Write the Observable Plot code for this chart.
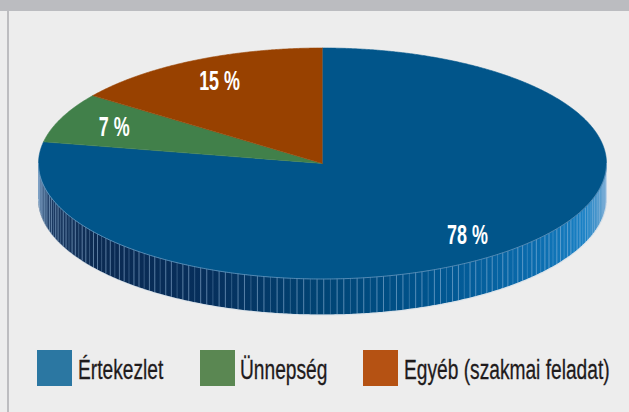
<!DOCTYPE html>
<html>
<head>
<meta charset="utf-8">
<script src="https://cdn.jsdelivr.net/npm/d3@7"></script>
<script src="https://cdn.jsdelivr.net/npm/@observablehq/plot@0.6"></script>
<style>
  html, body { margin: 0; padding: 0; }
  body { width: 629px; height: 412px; background: #ededed; position: relative; overflow: hidden;
         font-family: "Liberation Sans", Arial, sans-serif; }
  #band { position: absolute; left: 0; top: 0; width: 629px; height: 11px; background: #bbbcc0; }
  #border { position: absolute; left: 7px; top: 11px; width: 2px; height: 401px; background: #bdbdc0; }
  #chart { position: absolute; left: 0; top: 0; }
  .sw { position: absolute; top: 350px; width: 35px; height: 36px; }
  .lt { position: absolute; top: 355px; font-size: 27px; line-height: 31px; color: #1f1b1c; white-space: nowrap;
        transform: scaleX(0.71); transform-origin: 0 50%; -webkit-text-stroke: 0.3px #1f1b1c; }
</style>
</head>
<body>
<div id="band"></div>
<div id="border"></div>
<div id="chart"></div>
<div id="legend"></div>
<script>
// ---- data ----
const categories = ["Értekezlet", "Ünnepség", "Egyéb (szakmai feladat)"];
const shares = [78, 7, 15];
const valueLabels = ["78 %", "7 %", "15 %"];
const topColors = ["#01558a", "#41804a", "#984100"];
const legendColors = ["#2b77a2", "#5a8752", "#b55213"];

// ---- geometry (unit ellipse, y up) ----
const W = 629, H = 340;
const cxPx = 322, cyPx = 163, rxPx = 284, ryPx = 115.5;
const depth = 36 / ryPx;

const arcs = d3.pie().sort(null).value(d => d)(shares);

const slices = arcs.map((a, i) => {
  const n = Math.max(4, Math.ceil((a.endAngle - a.startAngle) / 0.005));
  const pts = [{x: 0, y: 0}];
  for (let k = 0; k <= n; k++) {
    const t = a.startAngle + (a.endAngle - a.startAngle) * k / n;
    pts.push({x: Math.sin(t), y: Math.cos(t)});
  }
  return pts;
});

const side = d3.range(0, 401).map(k => {
  const t = Math.PI / 2 + Math.PI * k / 400;
  return {x: Math.sin(t), yt: Math.cos(t), yb: Math.cos(t) - depth};
});

const stripes = d3.range(92, 269, 1.35).map((deg, k) => {
  const t = deg * Math.PI / 180;
  return {x: Math.sin(t), yt: Math.cos(t), yb: Math.cos(t) - depth, o: k % 3 === 1 ? 0.3 : 0.55};
});

const labelR = 0.8;
const labels = arcs.map((a, i) => {
  const m = (a.startAngle + a.endAngle) / 2;
  return {x: labelR * Math.sin(m), y: labelR * Math.cos(m), text: valueLabels[i]};
});

const plot = Plot.plot({
  width: W, height: H,
  marginTop: 0, marginRight: 0, marginBottom: 0, marginLeft: 0,
  style: {background: "transparent", overflow: "visible"},
  x: {domain: [-cxPx / rxPx, (W - cxPx) / rxPx], axis: null},
  y: {domain: [-(H - cyPx) / ryPx, cyPx / ryPx], axis: null},
  marks: [
    Plot.areaY(side, {x: "x", y1: "yb", y2: "yt", fill: "url(#sideGrad)", curve: "linear"}),
    Plot.ruleX(stripes, {x: "x", y1: "yb", y2: "yt", stroke: "#9cc0e0", strokeOpacity: "o", strokeWidth: 1}),
    Plot.line(side, {x: "x", y: "yb", stroke: "#c8d8e6", strokeOpacity: 0.5, strokeWidth: 1}),
    ...slices.map((pts, i) => Plot.line(pts, {x: "x", y: "y", fill: topColors[i], stroke: topColors[i], strokeWidth: 0.6, curve: "linear"})),
    Plot.line(side, {x: "x", y: "yt", stroke: "#7fa8cc", strokeOpacity: 0.65, strokeWidth: 1}),
    Plot.text(labels, {x: "x", y: "y", text: "text", fill: "white", fontSize: 28, fontWeight: "bold",
      fontFamily: '"Liberation Sans", Arial, sans-serif', textAnchor: "middle", lineAnchor: "middle"})
  ]
});

d3.select(plot).insert("defs", ":first-child").html(`
  <linearGradient id="sideGrad" x1="0" y1="0" x2="1" y2="0">
    <stop offset="0" stop-color="#3a5a82"/>
    <stop offset="0.02" stop-color="#1d3b63"/>
    <stop offset="0.1" stop-color="#0b2a52"/>
    <stop offset="0.3" stop-color="#062f5c"/>
    <stop offset="0.5" stop-color="#004474"/>
    <stop offset="0.7" stop-color="#00558f"/>
    <stop offset="0.88" stop-color="#0a6cae"/>
    <stop offset="0.965" stop-color="#1a82c6"/>
    <stop offset="1" stop-color="#5c9dcc"/>
  </linearGradient>`);

document.getElementById("chart").appendChild(plot);

// condense the pie labels horizontally around their own centres
const svgRect = plot.getBoundingClientRect();
plot.querySelectorAll("text").forEach(t => {
  const r = t.getBoundingClientRect();
  const cx = r.left + r.width / 2 - svgRect.left;
  const cy = r.top + r.height / 2 - svgRect.top;
  const g = document.createElementNS("http://www.w3.org/2000/svg", "g");
  g.setAttribute("transform", `translate(${cx},${cy}) scale(0.64,1) translate(${-cx},${-cy})`);
  t.parentNode.insertBefore(g, t);
  g.appendChild(t);
});

// ---- legend ----
const legend = document.getElementById("legend");
const swX = [37, 200, 363];
const txX = [78, 240, 404];
categories.forEach((c, i) => {
  const s = document.createElement("div");
  s.className = "sw"; s.style.left = swX[i] + "px"; s.style.background = legendColors[i];
  legend.appendChild(s);
  const t = document.createElement("div");
  t.className = "lt"; t.style.left = txX[i] + "px"; t.textContent = c;
  legend.appendChild(t);
});
</script>
</body>
</html>
